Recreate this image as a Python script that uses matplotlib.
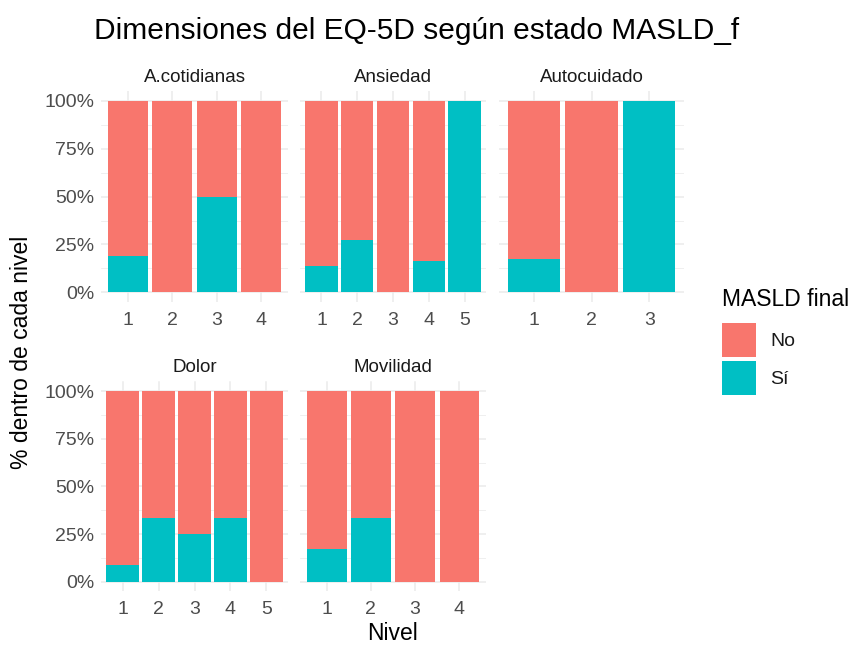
import matplotlib
matplotlib.use("Agg")
import matplotlib.pyplot as plt
import numpy as np

plt.rcParams['font.family'] = ['Liberation Sans', 'DejaVu Sans']

# ---- data ----
dimensiones = ["A.cotidianas", "Ansiedad", "Autocuidado", "Dolor", "Movilidad"]
niveles = {
    "A.cotidianas": ["1", "2", "3", "4"],
    "Ansiedad": ["1", "2", "3", "4", "5"],
    "Autocuidado": ["1", "2", "3"],
    "Dolor": ["1", "2", "3", "4", "5"],
    "Movilidad": ["1", "2", "3", "4"],
}
# proportion "Sí" within each level
si_prop = {
    "A.cotidianas": [0.19, 0.0, 0.50, 0.0],
    "Ansiedad": [0.135, 0.273, 0.0, 0.165, 1.0],
    "Autocuidado": [0.175, 0.0, 1.0],
    "Dolor": [0.085, 0.333, 0.25, 0.333, 0.0],
    "Movilidad": [0.171, 0.333, 0.0, 0.0],
}
legend_labels = ["No", "Sí"]
y_ticks = [0, 0.25, 0.5, 0.75, 1.0]
y_tick_labels = ["0%", "25%", "50%", "75%", "100%"]

col_no = "#F8766D"
col_si = "#00BFC4"
grid_col = "#EBEBEB"
tick_col = "#4D4D4D"

W, H = 855, 645
fig = plt.figure(figsize=(W / 100, H / 100), dpi=100)


def rect(l, r, t, b):
    return [l / W, 1 - b / H, (r - l) / W, (b - t) / H]


xcols = [(101, 288), (300, 486), (499, 684)]
yrows = [(91.4, 301.9), (381.5, 591.2)]

for i, dim in enumerate(dimensiones):
    row, col = divmod(i, 3)
    l, r = xcols[col]
    t, b = yrows[row]
    ax = fig.add_axes(rect(l, r, t, b))
    levs = niveles[dim]
    n = len(levs)
    x = np.arange(1, n + 1)
    si = np.array(si_prop[dim])
    no = 1 - si
    ax.set_xlim(0.4, n + 0.6)
    ax.set_ylim(-0.05, 1.05)
    # grid
    for yv in np.arange(0, 1.01, 0.125):
        major = abs((yv / 0.25) - round(yv / 0.25)) < 1e-6
        ax.axhline(yv, color=grid_col, lw=1.1 if major else 0.55, zorder=0)
    for xv in x:
        ax.axvline(xv, color=grid_col, lw=1.1, zorder=0)
    ax.bar(x, si, width=0.9, color=col_si, zorder=2, linewidth=0)
    ax.bar(x, no, bottom=si, width=0.9, color=col_no, zorder=2, linewidth=0)
    for s in ax.spines.values():
        s.set_visible(False)
    ax.set_xticks(x)
    ax.set_xticklabels(levs)
    ax.set_yticks(y_ticks)
    if col == 0:
        ax.set_yticklabels(y_tick_labels)
    else:
        ax.set_yticklabels([])
    ax.tick_params(length=0, labelsize=14, colors=tick_col, pad=5)
    ax.tick_params(axis='x', pad=7)
    ax.set_facecolor('white')
    ax.set_title(dim, fontsize=13.5, color="#1A1A1A", pad=7)

# titles
fig.text(417 / W, 1 - 31 / H, "Dimensiones del EQ-5D según estado MASLD_f",
         ha='center', va='center', fontsize=21.5, color='black')
fig.text(392 / W, 1 - 634 / H, "Nivel", ha='center', va='center', fontsize=16.5, color='black')
fig.text(22 / W, 1 - 352 / H, "% dentro de cada nivel", ha='center', va='center',
         rotation=90, fontsize=16.5, color='black')

# legend
fig.text(722 / W, 1 - 300 / H, "MASLD final", ha='left', va='center', fontsize=16.5, color='black')
for k, (lab, c) in enumerate(zip(legend_labels, [col_no, col_si])):
    top = 323 + k * 38
    lax = fig.add_axes(rect(722, 756, top, top + 34))
    lax.add_patch(plt.Rectangle((0, 0), 1, 1, color=c))
    lax.set_xlim(0, 1); lax.set_ylim(0, 1); lax.axis('off')
    fig.text(770 / W, 1 - (top + 18) / H, lab, ha='left', va='center', fontsize=14, color='#1A1A1A')

fig.savefig("out.png", dpi=100, facecolor='white')
